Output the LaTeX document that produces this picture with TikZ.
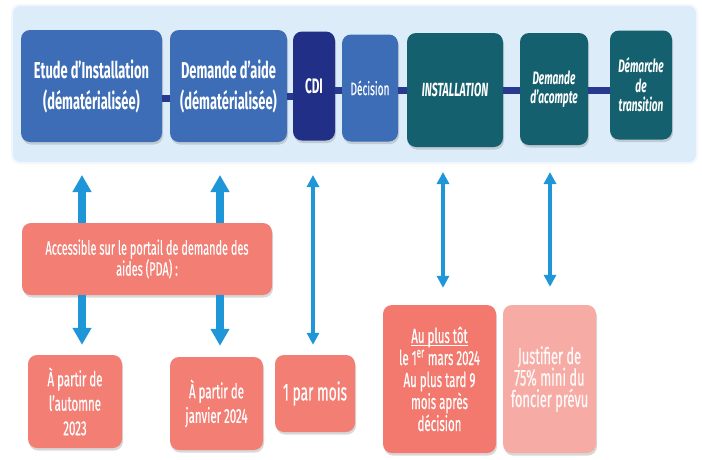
\documentclass[tikz,border=0pt]{standalone}
\usepackage{fontspec}
\setmainfont{Fira Sans}[FakeStretch=0.56]
\newfontfamily\notefont{Fira Sans}[FakeStretch=0.56,FakeBold=0.5]
\usetikzlibrary{arrows.meta,shadows}

\definecolor{panelBlue}{HTML}{DCECF9}
\definecolor{stepBlue}{HTML}{3D6DB6}
\definecolor{stepNavy}{HTML}{222F86}
\definecolor{stepTeal}{HTML}{15606E}
\definecolor{barNavy}{HTML}{2A3990}
\definecolor{arrowBlue}{HTML}{1E96D8}
\definecolor{noteCoral}{HTML}{F27E74}
\definecolor{noteRose}{HTML}{F6ABA4}

\newlength{\ulwidth}
\newcommand{\souligne}[1]{\settowidth{\ulwidth}{#1}\rlap{\rule[-3pt]{\ulwidth}{1.3pt}}#1}

\begin{document}
\begin{tikzpicture}[x=1pt,y=-1pt]

	\fill[white] (0,0) rectangle (702,459);
	\useasboundingbox (0,0) rectangle (702,459);

	% bandeau des etapes
	\fill[panelBlue, draw=panelBlue!40, line width=2pt, rounded corners=8pt] (12,5) rectangle (697,163);

	\tikzstyle{etape}=[rectangle, fill=stepBlue, text=white, rounded corners=9pt, align=center, inner sep=0pt, drop shadow={opacity=0.3,shadow xshift=1pt,shadow yshift=-2.5pt}]
	\tikzstyle{etapeFonce}=[etape, fill=stepNavy]
	\tikzstyle{etapeTeal}=[etape, fill=stepTeal, font=\fontsize{18}{19.5}\selectfont\bfseries\itshape]
	\tikzstyle{note}=[rectangle, fill=noteCoral, text=white, rounded corners=9pt, align=center, inner sep=0pt, font=\notefont\fontsize{20.5}{24.5}\selectfont, drop shadow={opacity=0.3,shadow xshift=1pt,shadow yshift=-2.5pt}]

	\node[etape, minimum width=141pt, minimum height=112pt, font=\fontsize{23}{31}\selectfont\bfseries] (Et) at (91.5,86) {Etude d’Installation\\(dématérialisée)};
	\node[etape, minimum width=117pt, minimum height=112pt, font=\fontsize{23}{31}\selectfont\bfseries] (Da) at (228.5,86) {Demande d’aide\\(dématérialisée)};
	\node[etapeFonce, minimum width=42pt, minimum height=109pt, font=\fontsize{21}{22}\selectfont\bfseries] (Cd) at (314,86) {CDI};
	\node[etape, minimum width=56pt, minimum height=107pt, font=\notefont\fontsize{18}{20}\selectfont] (De) at (370,88) {Décision};
	\node[etapeTeal, minimum width=96pt, minimum height=114pt, font=\fontsize{19}{20}\selectfont\bfseries\itshape] (In) at (455,90) {INSTALLATION};
	\node[etapeTeal, minimum width=68pt, minimum height=112pt] (Ac) at (554,89) {Demande\\d’acompte};
	\node[etapeTeal, minimum width=62pt, minimum height=109pt] (Tr) at (641,85) {Démarche\\de\\transition};

	\tikzstyle{linkBar}=[barNavy, line width=7pt]

	\coordinate (barA) at (0,98);
	\coordinate (barB) at (0,96);
	\coordinate (barC) at (0,90);

	\draw[linkBar] (Et.east |- barA) -- (Da.west |- barA);
	\draw[linkBar] (Da.east |- barB) -- (Cd.west |- barB);
	\draw[linkBar] (Cd.east |- barC) -- (De.west |- barC);
	\draw[linkBar] (De.east |- barC) -- (In.west |- barC);
	\draw[linkBar] (In.east |- barC) -- (Ac.west |- barC);
	\draw[linkBar] (Ac.east |- barC) -- (Tr.west |- barC);

	% notes du bas
	\node[note, minimum width=250pt, minimum height=72pt, font=\notefont\fontsize{19.5}{21}\selectfont] (Pda) at (147,259) {Accessible sur le portail de demande des\\aides (PDA) :};

	\node[note, minimum width=94pt, minimum height=93pt] (Au) at (75,401.5) {À partir de\\l’automne\\2023};
	\node[note, minimum width=93pt, minimum height=93pt] (Ja) at (216.5,403.5) {À partir de\\janvier 2024};
	\node[note, minimum width=80pt, minimum height=77pt, font=\notefont\fontsize{24.5}{25}\selectfont] (Mo) at (315,393.5) {1 par mois};
	\node[note, fill=noteCoral!95!red, minimum width=113pt, minimum height=148pt, font=\notefont\fontsize{20.5}{22}\selectfont] (Pl) at (439.5,379) {\souligne{Au plus tôt}\\le 1\textsuperscript{er} mars 2024\\Au plus tard 9\\mois après\\décision};
	\node[note, fill=noteRose, text=white!92!noteRose, minimum width=93pt, minimum height=148pt, font=\notefont\fontsize{23}{21.5}\selectfont] (Ju) at (549.5,379) {Justifier de\\75\% mini du\\foncier prévu};

	\tikzstyle{linkBig}=[arrowBlue, line width=8.5pt, -{Triangle[width=18pt,length=17pt]}]
	\tikzstyle{linkThin}=[arrowBlue, line width=4.5pt, {Triangle[width=12pt,length=12pt]}-{Triangle[width=12pt,length=12pt]}]

	\coordinate (up1) at (82,175);
	\coordinate (up2) at (220,175);
	\coordinate (up3) at (313,175);
	\coordinate (up4) at (443,172);
	\coordinate (up5) at (550,172);

	\draw[linkBig] (Pda.north -| up1) -- (up1);
	\draw[linkBig] (Pda.north -| up2) -- (up2);
	\draw[linkBig, shorten >=10pt] (Pda.south -| up1) -- (Au.north -| up1);
	\draw[linkBig, shorten >=11pt] (Pda.south -| up2) -- (Ja.north -| up2);

	\draw[linkThin, shorten >=10pt] (up3) -- (Mo.north -| up3);
	\draw[linkThin, shorten >=17pt] (up4) -- (Pl.north -| up4);
	\draw[linkThin, shorten >=18pt] (up5) -- (Ju.north -| up5);

\end{tikzpicture}
\end{document}
